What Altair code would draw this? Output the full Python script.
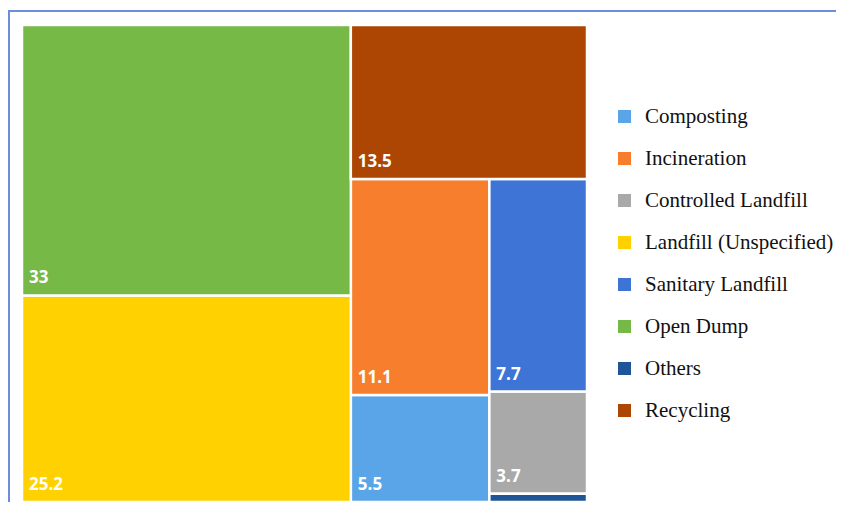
import altair as alt
import pandas as pd

# ---- data -------------------------------------------------------------
categories = ["Composting", "Incineration", "Controlled Landfill",
              "Landfill (Unspecified)", "Sanitary Landfill", "Open Dump",
              "Others", "Recycling"]
values = [5.5, 11.1, 3.7, 25.2, 7.7, 33.0, 0.3, 13.5]
labels = ["5.5", "11.1", "3.7", "25.2", "7.7", "33", "", "13.5"]
colors = ["#5AA5E8", "#F77E2C", "#A9A9A9", "#FFD100", "#3D74D6",
          "#76B947", "#1D5596", "#AD4503"]

# slice-and-dice structure of the treemap (h = side by side, v = stacked)
tree = ("h", [
    ("v", ["Open Dump", "Landfill (Unspecified)"]),
    ("v", ["Recycling",
           ("h", [("v", ["Incineration", "Composting"]),
                  ("v", ["Sanitary Landfill", "Controlled Landfill", "Others"])])]),
])

val = dict(zip(categories, values))


def total(node):
    if isinstance(node, str):
        return val[node]
    return sum(total(c) for c in node[1])


def layout(node, x0, y0, x1, y1, out):
    if isinstance(node, str):
        out[node] = (x0, y0, x1, y1)
        return
    kind, children = node
    t = total(node)
    pos = x0 if kind == "h" else y0
    for c in children:
        frac = total(c) / t
        if kind == "h":
            step = (x1 - x0) * frac
            layout(c, pos, y0, pos + step, y1, out)
        else:
            step = (y1 - y0) * frac
            layout(c, x0, pos, x1, pos + step, out)
        pos += step


rects = {}
layout(tree, 0.0, 0.0, 100.0, 100.0, rects)

df = pd.DataFrame({
    "category": categories,
    "value": values,
    "label": labels,
    "x0": [rects[c][0] for c in categories],
    "y0": [rects[c][1] for c in categories],
    "x1": [rects[c][2] for c in categories],
    "y1": [rects[c][3] for c in categories],
})

W, H = 565, 477
xs = alt.Scale(domain=[0, 100], nice=False, zero=False)
ys = alt.Scale(domain=[0, 100], nice=False, zero=False, reverse=True)

base = alt.Chart(df)

tiles = base.mark_rect(stroke="white", strokeWidth=2.5).encode(
    x=alt.X("x0:Q", scale=xs, axis=None),
    x2="x1:Q",
    y=alt.Y("y0:Q", scale=ys, axis=None),
    y2="y1:Q",
    color=alt.Color(
        "category:N",
        scale=alt.Scale(domain=categories, range=colors),
        sort=categories,
        legend=alt.Legend(
            title=None, orient="none", legendX=592, legendY=81,
            symbolType="square", symbolSize=169, symbolStrokeWidth=0,
            labelFont="Liberation Serif", labelFontSize=21, labelColor="#111111",
            labelOffset=10, rowPadding=20, padding=0, labelLimit=300,
        ),
    ),
)

text = base.transform_filter("datum.label != ''").mark_text(
    align="left", baseline="alphabetic", dx=7, dy=-12,
    font="Open Sans", fontWeight="bold", fontSize=17, color="white",
).encode(
    x=alt.X("x0:Q", scale=xs, axis=None),
    y=alt.Y("y1:Q", scale=ys, axis=None),
    text="label:N",
)

frame = alt.Chart(alt.Data(values=[{"a": 1}])).mark_rect(
    fillOpacity=0, stroke="#6B8FD8", strokeWidth=2,
).encode(
    x=alt.value(-13), x2=alt.value(900),
    y=alt.value(-14), y2=alt.value(600),
)

chart = alt.layer(frame, tiles, text).properties(
    width=W, height=H,
    autosize=alt.AutoSizeParams(type="none"),
    padding={"left": 14, "top": 17, "right": 249, "bottom": 0},
).configure_view(stroke=None).configure(background="white")

chart.save("out.html", embed_options={"renderer": "svg", "actions": False})
